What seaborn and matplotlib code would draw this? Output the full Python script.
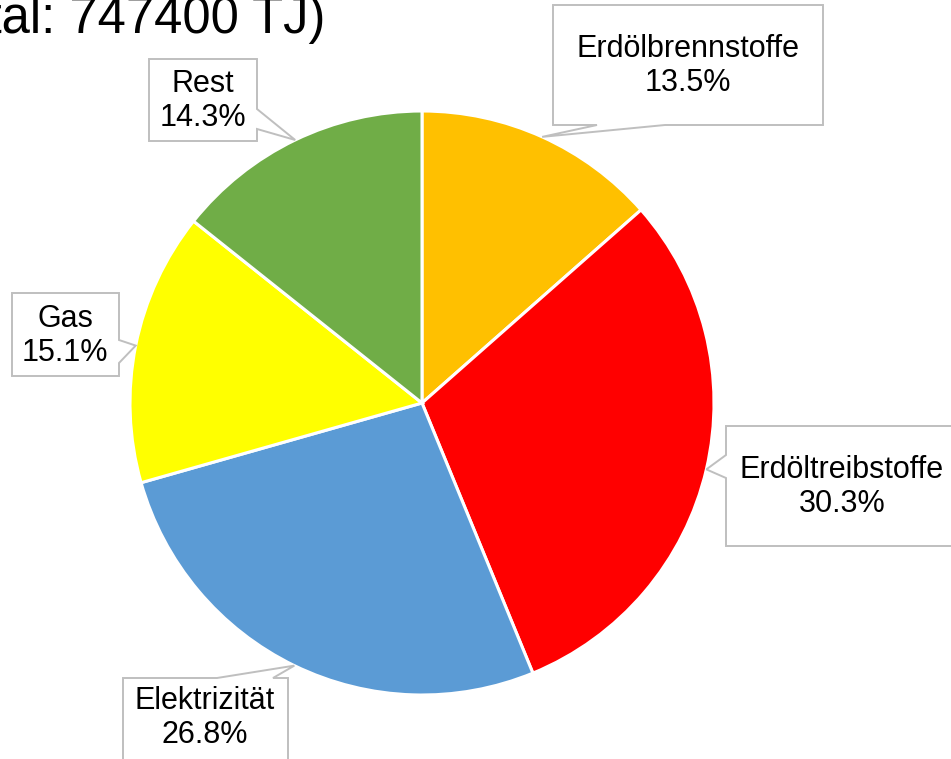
import numpy as np
import matplotlib
matplotlib.use("Agg")
import matplotlib.pyplot as plt
import seaborn as sns
from matplotlib.patches import Polygon

# ---- data ----
categories = ["Erdölbrennstoffe", "Erdöltreibstoffe", "Elektrizität", "Gas", "Rest"]
shares = [13.5, 30.3, 26.8, 15.1, 14.3]
colors = ["#FFC000", "#FF0000", "#5B9BD5", "#FFFF00", "#70AD47"]
title = "Endenergieverbrauch (Total: 747400 TJ)"

# ---- label callout layout (pixel coords, y down): box (l, t, r, b), pointer side, base span ----
boxes = [(553, 5, 823, 125), (726, 426, 962, 546), (123, 678, 288, 765),
         (12, 293, 119, 376), (149, 59, 257, 141)]
sides = ["bottom", "left", "top", "right", "right"]
bases = [(597, 665), (455, 478), (217, 273), (340, 363), (109, 129)]
text_centers = [(688, 66), (842, 487), (205, 718), (65, 336), (203, 101)]

W, H = 951, 759
sns.set_theme(style="white")
plt.rcParams['font.family'] = ['Liberation Sans', 'DejaVu Sans']

fig = plt.figure(figsize=(W / 100, H / 100), dpi=100)
ax = fig.add_axes([0, 0, 1, 1])

cx, cy, r = 422, H - 403, 292
wedges, _ = ax.pie(shares, colors=colors, startangle=90, counterclock=False,
                   center=(cx, cy), radius=r,
                   wedgeprops=dict(edgecolor="white", linewidth=2.2))
ax.set_xlim(0, W)
ax.set_ylim(0, H)
ax.set_aspect("equal")
ax.axis("off")


def callout(box, side, base, tip):
    l, t, rr, b = box
    b0, b1 = base
    tx, ty = tip
    if side == "top":
        pts = [(l, t), (b0, t), (tx, ty), (b1, t), (rr, t), (rr, b), (l, b)]
    elif side == "right":
        pts = [(l, t), (rr, t), (rr, b0), (tx, ty), (rr, b1), (rr, b), (l, b)]
    elif side == "bottom":
        pts = [(l, t), (rr, t), (rr, b), (b1, b), (tx, ty), (b0, b), (l, b)]
    else:
        pts = [(l, t), (rr, t), (rr, b), (l, b), (l, b1), (tx, ty), (l, b0)]
    return [(x, H - y) for x, y in pts]


for w, cat, val, box, side, base, tc in zip(wedges, categories, shares, boxes,
                                            sides, bases, text_centers):
    theta = np.deg2rad((w.theta1 + w.theta2) / 2)
    tip = (cx + r * np.cos(theta), H - (cy + r * np.sin(theta)))
    poly = Polygon(callout(box, side, base, tip), closed=True, facecolor="white",
                   edgecolor="#BFBFBF", linewidth=1.4, zorder=5)
    ax.add_patch(poly)
    ax.text(tc[0], H - tc[1], f"{cat}\n{val:.1f}%", ha="center", va="center",
            fontsize=22, linespacing=1.2, color="black", zorder=6)

ax.text(325, H - 33, title, ha="right", va="baseline", fontsize=36.5, color="black")

fig.savefig("out.png", dpi=100)
